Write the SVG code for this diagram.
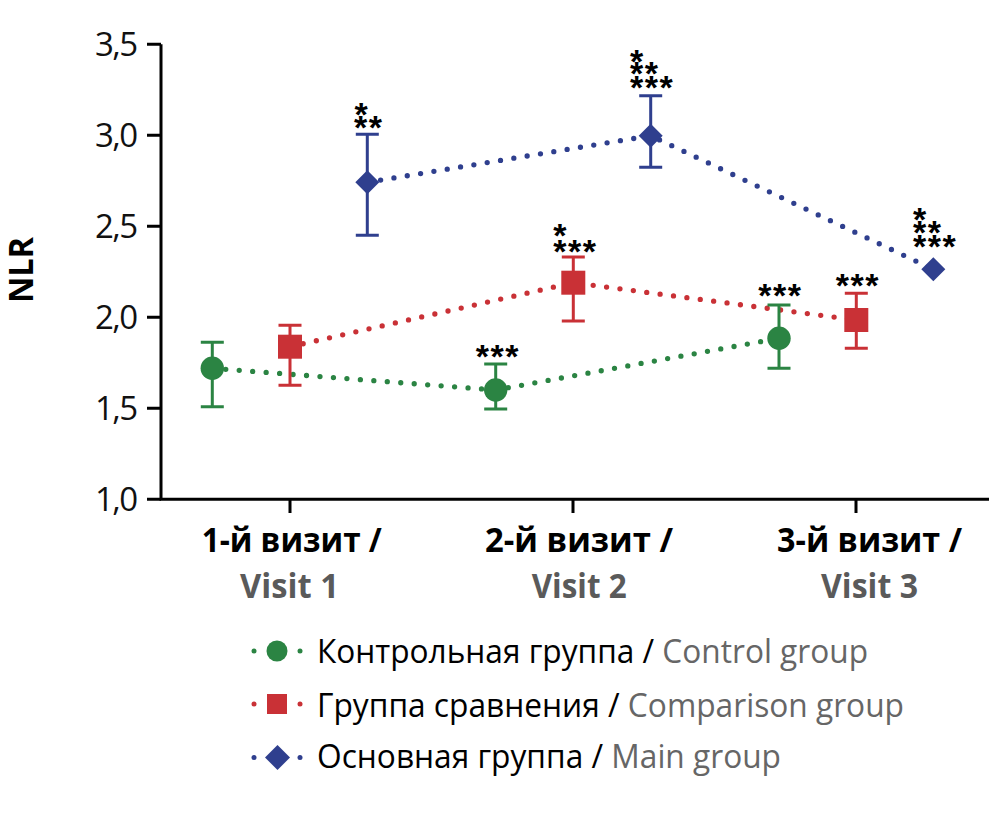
<svg xmlns="http://www.w3.org/2000/svg" width="991" height="829" viewBox="0 0 991 829">
<style>
.ax{stroke:#000;stroke-width:3;fill:none}
.tl{font-family:"Open Sans","Liberation Sans",sans-serif;font-size:33px;fill:#111}
.xl{font-family:"Open Sans","Liberation Sans",sans-serif;font-size:34px;font-weight:bold;fill:#000}
.xg{fill:#5a5a5a}
.lg{font-family:"Open Sans","Liberation Sans",sans-serif;font-size:32px;fill:#000}
.en{fill:#666}
.st{font-family:"Liberation Sans",Arial,sans-serif;font-size:34px;font-weight:bold;fill:#000;letter-spacing:1.5px}
.dg{stroke:#2b8443}.dr{stroke:#c93136}.db{stroke:#2f3f8e}
.dot{fill:none;stroke-width:5.3;stroke-linecap:round;stroke-dasharray:0 13.5}
.eb{fill:none;stroke-width:3}
.fg{fill:#2b8443}.fr{fill:#c93136}.fb{fill:#2f3f8e}
</style>
<g id="axes">
<path class="ax" d="M161,44.3V499.3H989"/>
<path class="ax" d="M147,44.3H161M147,135.3H161M147,226.3H161M147,317.3H161M147,408.3H161M147,499.3H161"/>
<path class="ax" d="M290,499.3V513M573,499.3V513M856,499.3V513"/>
<text class="tl" x="138" y="56" text-anchor="end" textLength="43">3,5</text>
<text class="tl" x="138" y="147" text-anchor="end" textLength="43">3,0</text>
<text class="tl" x="138" y="238" text-anchor="end" textLength="43">2,5</text>
<text class="tl" x="138" y="329" text-anchor="end" textLength="43">2,0</text>
<text class="tl" x="138" y="420" text-anchor="end" textLength="43">1,5</text>
<text class="tl" x="138" y="511" text-anchor="end" textLength="43">1,0</text>
<text class="xl" transform="translate(33,270) rotate(-90)" text-anchor="middle" textLength="66" lengthAdjust="spacingAndGlyphs">NLR</text>
<text class="xl" x="201.7" y="551.5" textLength="180" lengthAdjust="spacingAndGlyphs">1-й визит /</text>
<text class="xl xg" x="240" y="598" textLength="99" lengthAdjust="spacingAndGlyphs">Visit 1</text>
<text class="xl" x="485" y="551.5" textLength="188" lengthAdjust="spacingAndGlyphs">2-й визит /</text>
<text class="xl xg" x="531.7" y="598" textLength="95" lengthAdjust="spacingAndGlyphs">Visit 2</text>
<text class="xl" x="777" y="551.5" textLength="185" lengthAdjust="spacingAndGlyphs">3-й визит /</text>
<text class="xl xg" x="821" y="598" textLength="97" lengthAdjust="spacingAndGlyphs">Visit 3</text>
</g>
<g id="connectors">
<polyline class="dot dg" points="212.3,368.3 495.7,390 779,338.3"/>
<polyline class="dot dr" points="290,346.7 573.3,282.7 856.3,320"/>
<polyline class="dot db" points="367.3,182.3 650.7,135.7 933.3,269.3"/>
</g>
<g id="control-group">
<path class="eb dg" d="M212.3,342.3V406.7M200.8,342.3H223.8M200.8,406.7H223.8"/>
<path class="eb dg" d="M495.7,364V409M484.2,364H507.2M484.2,409H507.2"/>
<path class="eb dg" d="M779,305V368.3M767.5,305H790.5M767.5,368.3H790.5"/>
<circle class="fg" cx="212.3" cy="368.3" r="11.7"/>
<circle class="fg" cx="495.7" cy="390" r="11.7"/>
<circle class="fg" cx="779" cy="338.3" r="11.7"/>
</g>
<g id="comparison-group">
<path class="eb dr" d="M290,325.3V385.3M278.5,325.3H301.5M278.5,385.3H301.5"/>
<path class="eb dr" d="M573.3,257V321M561.8,257H584.8M561.8,321H584.8"/>
<path class="eb dr" d="M856.3,293.3V348.3M844.8,293.3H867.8M844.8,348.3H867.8"/>
<rect class="fr" x="278" y="334.7" width="24" height="24"/>
<rect class="fr" x="561.3" y="270.7" width="24" height="24"/>
<rect class="fr" x="844.3" y="308" width="24" height="24"/>
</g>
<g id="main-group">
<path class="eb db" d="M367.3,134.3V235.3M355.8,134.3H378.8M355.8,235.3H378.8"/>
<path class="eb db" d="M650.7,95.7V167.3M639.2,95.7H662.2M639.2,167.3H662.2"/>
<polygon class="fb" points="367.3,170.3 379.3,182.3 367.3,194.3 355.3,182.3"/>
<polygon class="fb" points="650.7,123.7 662.7,135.7 650.7,147.7 638.7,135.7"/>
<polygon class="fb" points="933.3,257.3 945.3,269.3 933.3,281.3 921.3,269.3"/>
</g>
<g id="significance">
<text class="st" x="354.5" y="126">*</text>
<text class="st" x="354" y="138.7">**</text>
<text class="st" x="630" y="72.7">*</text>
<text class="st" x="630" y="85.3">**</text>
<text class="st" x="630" y="98.7">***</text>
<text class="st" x="913" y="231">*</text>
<text class="st" x="913" y="244.3">**</text>
<text class="st" x="913" y="257.7">***</text>
<text class="st" x="553.3" y="246.7">*</text>
<text class="st" x="553.3" y="262.7">***</text>
<text class="st" x="835.7" y="296.7">***</text>
<text class="st" x="758.3" y="306.7">***</text>
<text class="st" x="475.7" y="368.3">***</text>
</g>
<g id="legend">
<g id="legend-control">
<circle class="fg" cx="254" cy="651" r="2.5"/><circle class="fg" cx="300" cy="651" r="2.5"/>
<circle class="fg" cx="277" cy="651" r="10.5"/>
<text class="lg" x="317" y="663" textLength="551" lengthAdjust="spacingAndGlyphs">Контрольная группа / <tspan class="en">Control group</tspan></text>
</g>
<g id="legend-comparison">
<circle class="fr" cx="254" cy="704" r="2.5"/><circle class="fr" cx="300" cy="704" r="2.5"/>
<rect class="fr" x="267" y="694" width="20" height="20"/>
<text class="lg" x="317" y="716.5" textLength="587" lengthAdjust="spacingAndGlyphs">Группа сравнения / <tspan class="en">Comparison group</tspan></text>
</g>
<g id="legend-main">
<circle class="fb" cx="254" cy="757.5" r="2.5"/><circle class="fb" cx="300" cy="757.5" r="2.5"/>
<polygon class="fb" points="277.5,745 290,757.5 277.5,770 265,757.5"/>
<text class="lg" x="317" y="768" textLength="464" lengthAdjust="spacingAndGlyphs">Основная группа / <tspan class="en">Main group</tspan></text>
</g>
</g>
</svg>
